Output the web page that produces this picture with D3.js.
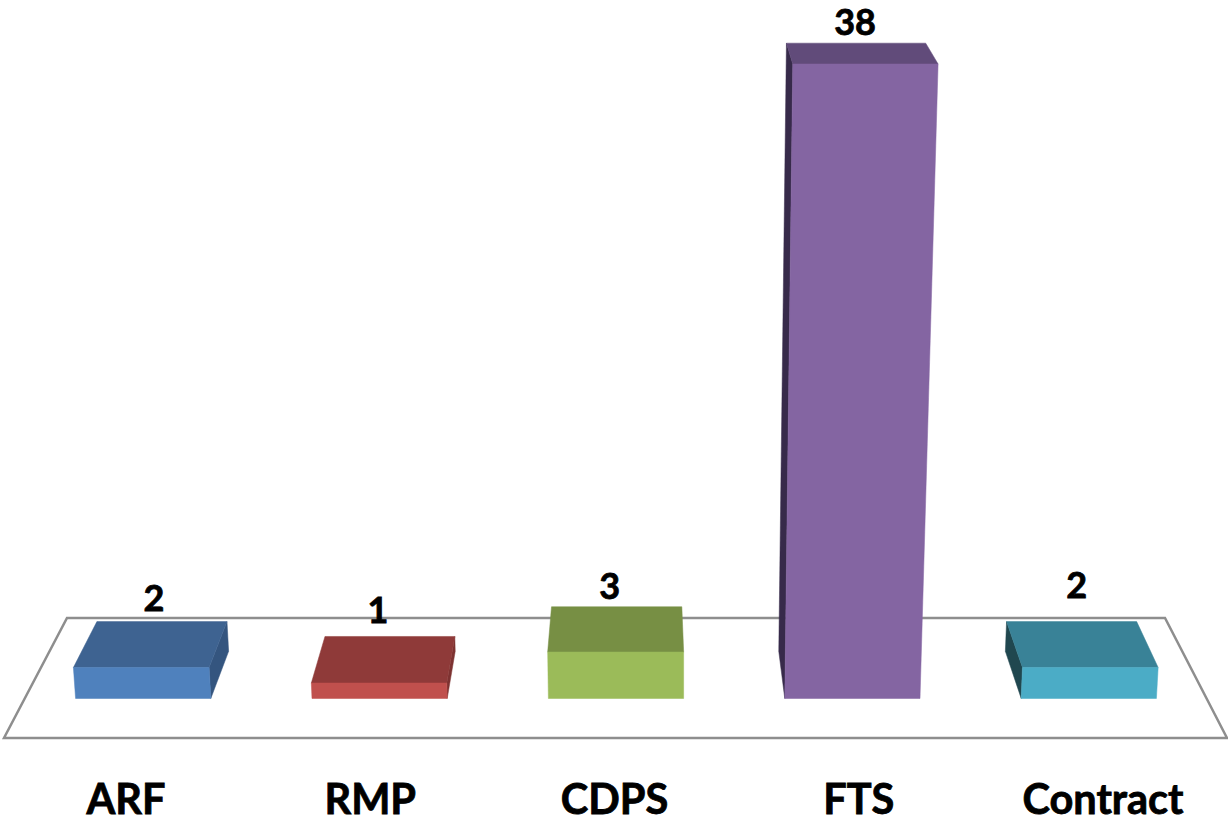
<!DOCTYPE html>
<html><head><meta charset="utf-8">
<script src="https://cdn.jsdelivr.net/npm/d3@7"></script>
<style>html,body{margin:0;padding:0;background:#fff;overflow:hidden}svg{display:block}
text{font-family:Lato,"Open Sans",sans-serif;font-weight:700;fill:#000;stroke:#000;stroke-width:.8px;text-anchor:middle}</style>
</head><body><svg id="c" width="1228" height="817"></svg>
<script>
// data
const categories = ["ARF","RMP","CDPS","FTS","Contract"];
const values = [2,1,3,38,2];
const frontColors = ["#4f81bd","#c0504d","#9bbb59","#8465a2","#4bacc6"];
const topColors = ["#3e6391","#8f3a39","#778f44","#614b7a","#398297"];
const sideColors = ["#34557f","#7d3231","#688038","#372a4a","#20474f"];
// layout
const labelNudge = [[-8,-11],[-12,-13],[-7,-8],[-1,-8],[5,-24]];
const W=1228,H=817, baseY=698.5, depth=0.0415, vx=640, vy=-438, riseVx=678, riseK=0.0001177;
const svg=d3.select("#c");
const x=d3.scaleBand().domain(categories).range([25,1207]).paddingInner(0.428).paddingOuter(0.214);
const h=d3.scaleLinear().domain([0,3,38]).range([0,46.5,634.5]);
const catX=d3.scalePoint().domain(categories).range([126,1103]);
const line=d3.line();
// floor
svg.append("path").attr("d",line([[67,618],[1165,618],[1227,738],[4,738]])+"Z")
  .attr("fill","#fff").attr("stroke","#8e8e8e").attr("stroke-width",2.5);
const back=p=>[p[0]+(vx-p[0])*depth,p[1]+(vy-p[1])*depth];
const rise=(px,v)=>{const t=h(v);return [px+(px-riseVx)*t*riseK,baseY-t];};
const face=(g,pts,col)=>g.append("path").attr("d",line(pts)+"Z").attr("fill",col).attr("stroke",col).attr("stroke-width",.5);
categories.forEach((c,i)=>{
  const v=values[i],x0=x(c),x1=x0+x.bandwidth();
  const bl=[x0,baseY],br=[x1,baseY],tl=rise(x0,v),tr=rise(x1,v);
  const g=svg.append("g");
  if(x1<vx) face(g,[br,tr,back(tr),back(br)],sideColors[i]);
  if(x0>vx) face(g,[bl,tl,back(tl),back(bl)],sideColors[i]);
  face(g,[tl,tr,back(tr),back(tl)],topColors[i]);
  face(g,[bl,br,tr,tl],frontColors[i]);
  const bt=back(tl),bt2=back(tr);
  svg.append("text").attr("x",(bt[0]+bt2[0])/2+labelNudge[i][0]).attr("y",bt[1]+labelNudge[i][1])
    .attr("font-size",36).text(v);
  svg.append("text").attr("x",catX(c)).attr("y",814).attr("font-size",41.5).text(c);
});
</script></body></html>
